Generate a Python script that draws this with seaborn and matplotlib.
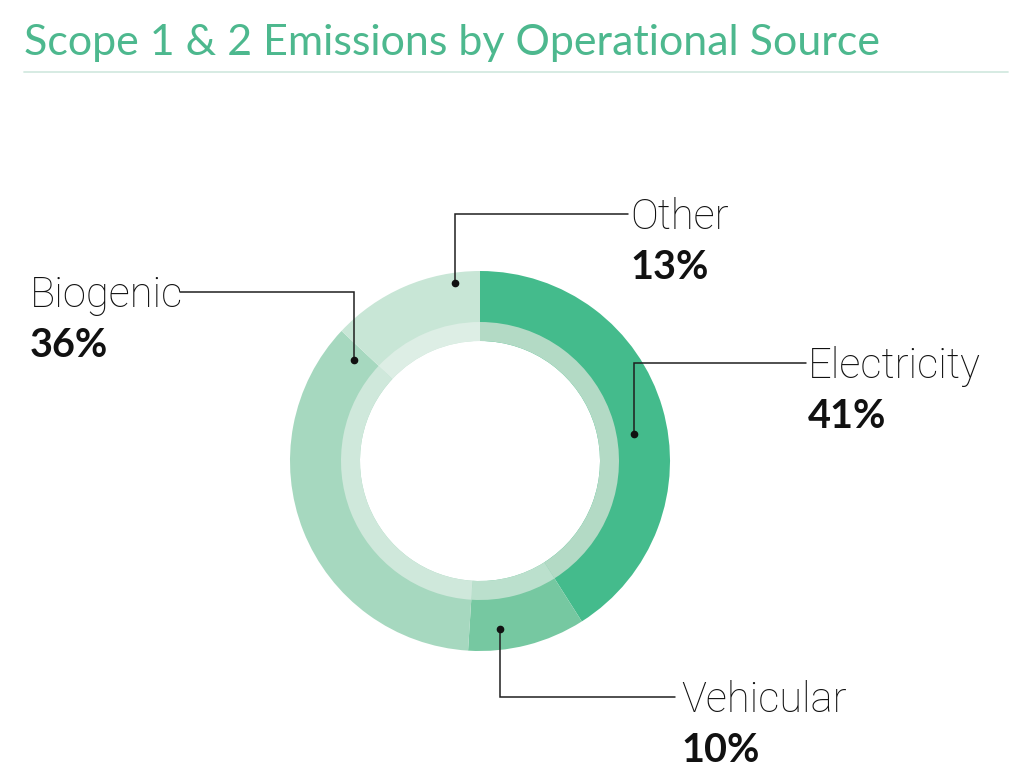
import matplotlib.pyplot as plt
import seaborn as sns

# emissions share by operational source
sources = ["Electricity", "Vehicular", "Biogenic", "Other"]
shares = [41, 10, 36, 13]
share_labels = ["41%", "10%", "36%", "13%"]

ring_colors = ["#44BB8C", "#76C8A1", "#A6D8BF", "#C8E6D6"]
band_colors = ["#B3DAC5", "#BBE0CD", "#CFE8DB", "#DDEEE5"]

W, H = 1033, 783

# callout layout in picture pixels (y measured from top)
# dot x, dot y, elbow y, line end x, text x, text align
callouts = {
    "Electricity": (634, 434, 363, 806, 808, "left"),
    "Vehicular": (500, 629, 697, 675, 681, "left"),
    "Biogenic": (354, 360, 292, 180, 30, "left"),
    "Other": (455, 283, 214, 628, 630, "left"),
}

sns.set_theme(style="white")
plt.rcParams["font.family"] = ["Lato", "DejaVu Sans"]

fig = plt.figure(figsize=(W / 100, H / 100), dpi=100)
ax = fig.add_axes([0, 0, 1, 1])

cx, cy = 480, H - 461
ax.pie(shares, colors=ring_colors, startangle=90, counterclock=False,
       radius=190, center=(cx, cy), wedgeprops=dict(width=70, linewidth=0))
ax.pie(shares, colors=band_colors, startangle=90, counterclock=False,
       radius=139, center=(cx, cy), wedgeprops=dict(width=19, linewidth=0))

ax.set_xlim(0, W)
ax.set_ylim(0, H)
ax.set_aspect("equal")
ax.axis("off")

for name, pct in zip(sources, share_labels):
    dx, dy, ey, lx, tx, ha = callouts[name]
    ax.plot([dx, dx, lx], [H - dy, H - ey, H - ey], color="#1f1f1f", lw=1.1,
            solid_joinstyle="miter")
    ax.plot(dx, H - dy, "o", color="#111111", ms=4.5)
    name_base = ey + 15
    ax.text(tx, H - name_base, name, ha=ha, va="baseline", fontsize=30,
            fontweight="light", family="Roboto", color="#111111")
    ax.text(tx, H - (name_base + 50), pct, ha=ha, va="baseline", fontsize=28.5,
            fontweight="bold", color="#111111")

ax.text(24, H - 55, "Scope 1 & 2 Emissions by Operational Source", ha="left",
        va="baseline", fontsize=31, color="#4DB88E")
ax.plot([24, 1008], [H - 72, H - 72], color="#D3E9E0", lw=1.3)

fig.savefig("out.png", dpi=100)
